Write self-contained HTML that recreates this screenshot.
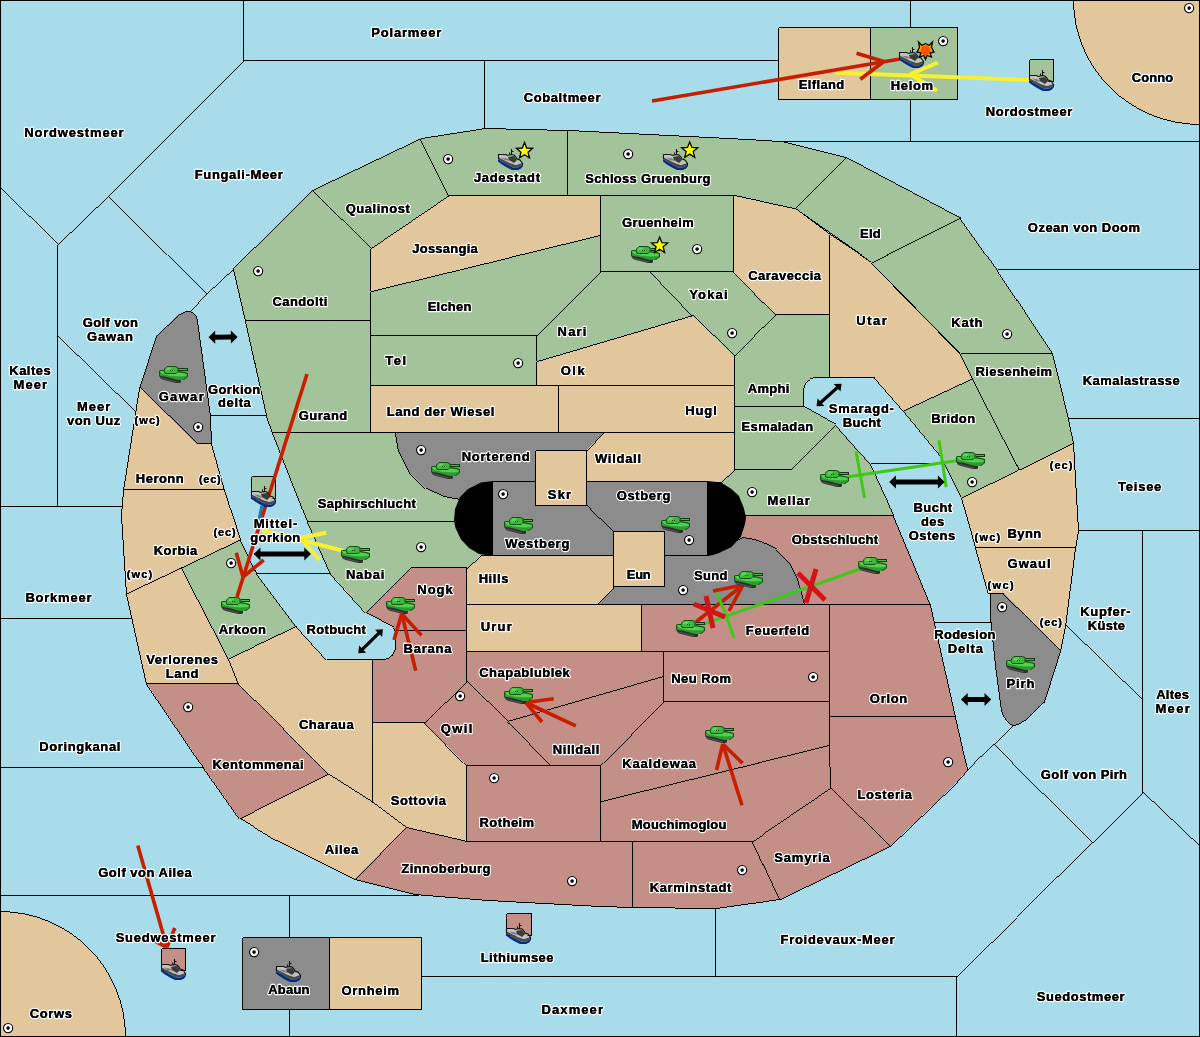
<!DOCTYPE html>
<html><head><meta charset="utf-8"><style>
html,body{margin:0;padding:0;background:#a8dcea;}
svg{display:block;will-change:transform}
</style></head><body>
<svg width="1200" height="1037" viewBox="0 0 1200 1037">
<defs>
<g id="tank">
<polygon fill="#2e2e2e" points="0,9 2,9 8,10 12,11 15,12 19,13 22,14 22,16 21,17 17,17 13,16 9,15 5,14 2,13 1,11 0,10"/>
<polyline fill="none" stroke="#5a5a5a" stroke-width="0.9" points="2,12 6,13 10,14 14,15 18,16"/>
<polygon fill="#2c9c2c" points="1,4 5,4 19,5 25,6 29,7 29,11 27,12 25,14 19,14 15,13 12,12 8,11 2,10 0,9 0,5"/>
<polygon fill="#50cf50" points="1,5 6,5 19,6.5 26,7.5 28,8.5 27,10 20,10.5 12,10 3,8"/>
<polyline fill="none" stroke="#155015" stroke-width="1" points="0.5,9 0.5,5 1.5,4.5 5,4.5 19,5.5 25,6.5 28.5,7.5 28.5,11 26.5,12.5 24.5,13.5"/>
<polygon fill="#3cb83c" stroke="#155015" stroke-width="1" points="8,0.5 16,0.5 19,1.5 19,5.5 17,7.5 6,7.5 5,4.5 6,2.5"/>
<polygon fill="#58d858" points="8,1.5 13,1.5 11,4.5 7,4.5"/>
<rect x="20" y="2.5" width="8.5" height="2" fill="#40c040" stroke="#0f3a0f" stroke-width="1"/>
<rect x="11" y="4" width="1" height="1" fill="#103010"/><rect x="13" y="4" width="1" height="1" fill="#103010"/>
</g><g id="fleet">
<polygon fill="#002a8c" points="0,10 0,12.5 4,15.5 9,18.5 14,21 20,21 23,19.5 25,17 25,15.5 20,18.5 15,18.5 9,15.5 3,12"/>
<polygon fill="#4a4a4a" points="0,8 6,11 12,14 18,16 24,14 25,15.5 20,18.5 15,18.5 9,15.5 3,12 0,10"/>
<polygon fill="#c2c2c2" points="1,6 8,6 10,7 13,9 18,11 23,13 24,14 18,16 12,14 6,11 1,8.5"/>
<polygon fill="#7a7a7a" points="3,8.5 9,9.5 13,12 7,11"/>
<polygon fill="#3a3a3a" points="10,8 16,7 19,11 16,14 11,11"/>
<polyline fill="none" stroke="#111" stroke-width="1.1" points="0.5,10 0.5,5.5 7.5,5.5 9.5,6.5 11,6 13,5.5 16,6 18,8 19,10 22,11 23.5,13 24.5,14.5 24.5,16"/>
<line x1="13.5" y1="0" x2="13.5" y2="6" stroke="#111" stroke-width="1.1"/>
<line x1="13.5" y1="2.5" x2="15.5" y2="2.5" stroke="#111" stroke-width="1"/>
<line x1="11.5" y1="3.5" x2="11.5" y2="5.5" stroke="#111" stroke-width="1"/>
</g><g id="sc"><circle cx="0.1" cy="0.1" r="4.6" fill="#fff" stroke="#000" stroke-width="1.1"/><circle cx="0.1" cy="0.1" r="1.8" fill="#000"/></g>
</defs>
<rect width="1200" height="1037" fill="#a8dcea"/>
<g stroke="#000" stroke-width="0.99" shape-rendering="crispEdges">
<polygon fill="#a3c49a" points="233.5,268.5 311.5,190.5 370.5,248.5 370.5,320.5 245.5,320.5"/><polygon fill="#a3c49a" points="311.5,190.5 420.5,138.5 448.5,195.5 370.5,248.5"/><polygon fill="#a3c49a" points="420.5,138.5 484.5,128.5 567.5,130.5 567.5,195.5 448.5,195.5"/><polygon fill="#a3c49a" points="567.5,130.5 728.5,138.5 780.5,141.5 845.5,157.5 794.5,208.5 733.5,195.5 567.5,195.5"/><polygon fill="#a3c49a" points="845.5,157.5 960.5,218.5 871.5,262.5 794.5,208.5"/><polygon fill="#e2c69c" points="733.5,195.5 794.5,208.5 829.5,234.5 829.5,314.5 775.5,314.5 733.5,271.5"/><polygon fill="#e2c69c" points="829.5,234.5 871.5,262.5 960.5,352.5 972.5,378.5 903.5,410.5 874.5,377.5 829.5,377.5"/><polygon fill="#a3c49a" points="960.5,218.5 997.5,270.5 1052.5,353.5 960.5,353.5 871.5,262.5"/><polygon fill="#a3c49a" points="960.5,353.5 1052.5,353.5 1059.5,380.5 1068.5,418.5 1073.5,442.5 1019.5,469.5 972.5,378.5"/><polygon fill="#a3c49a" points="903.5,410.5 972.5,378.5 1019.5,469.5 961.5,497.5 940.5,455.5"/><polygon fill="#e2c69c" points="961.5,497.5 1019.5,469.5 1073.5,442.5 1078.5,530.5 1075.5,547.5 975.5,547.5"/><polygon fill="#e2c69c" points="975.5,547.5 1075.5,547.5 1065.5,625.5 1060.5,650.5 1003.5,593.5 988.5,593.5"/><path fill="#8c8c8c" d="M990.5,593.5 L1003.5,593.5 L1060.5,650.5 L1044,702.5 L1025,720.5 Q1018.5,725.5 1012.5,725.5 Q1005,722 1001.5,711 L995.5,666 L991,622 Z"/><polygon fill="#a3c49a" points="600.5,195.5 733.5,195.5 733.5,271.5 600.5,271.5"/><polygon fill="#e2c69c" points="370.5,248.5 448.5,195.5 600.5,195.5 600.5,235.5 370.5,291.5"/><polygon fill="#a3c49a" points="370.5,291.5 600.5,235.5 600.5,271.5 536.5,335.5 370.5,335.5"/><polygon fill="#a3c49a" points="370.5,335.5 536.5,335.5 536.5,385.5 370.5,385.5"/><polygon fill="#a3c49a" points="536.5,335.5 600.5,271.5 650.5,271.5 692.5,315.5 536.5,361.5"/><polygon fill="#a3c49a" points="650.5,271.5 733.5,271.5 775.5,314.5 734.5,356.5 692.5,315.5"/><polygon fill="#e2c69c" points="536.5,361.5 692.5,315.5 734.5,356.5 734.5,385.5 536.5,385.5"/><path fill="#a3c49a" d="M734.5,356.5 L775.5,314.5 L829.5,314.5 L829.5,377.5 L815.5,377.5 Q803.5,378.5 803.5,391.5 L803.5,406.5 L734.5,406.5 Z"/><polygon fill="#a3c49a" points="734.5,406.5 803.5,406.5 835.5,424.5 790.5,469.5 734.5,469.5"/><polygon fill="#a3c49a" points="720.5,482.5 734.5,469.5 790.5,469.5 835.5,424.5 858.5,450.5 870.5,463.5 887.5,500.5 893.5,515.5 707.5,515.5 707.5,482.5"/><polygon fill="#e2c69c" points="603.5,432.5 734.5,432.5 734.5,469.5 720.5,482.5 586.5,482.5 586.5,450.5"/><polygon fill="#e2c69c" points="558.5,385.5 734.5,385.5 734.5,432.5 558.5,432.5"/><polygon fill="#e2c69c" points="370.5,385.5 558.5,385.5 558.5,432.5 370.5,432.5"/><polygon fill="#a3c49a" points="245.5,320.5 370.5,320.5 370.5,432.5 272.5,432.5 266.5,415.5"/><polygon fill="#a3c49a" points="272.5,432.5 395.5,432.5 398.5,450.5 410.5,473.5 425.5,488.5 443.5,496.5 459.5,499.5 470.5,499.5 470.5,521.5 307.5,521.5"/><polygon fill="#8c8c8c" points="395.5,432.5 603.5,432.5 586.5,450.5 535.5,450.5 535.5,481.5 492.5,481.5 476.5,486.5 459.5,499.5 443.5,496.5 425.5,488.5 410.5,473.5 398.5,450.5"/><polygon fill="#8c8c8c" points="492.5,481.5 707.5,481.5 707.5,555.5 492.5,555.5"/><polygon fill="#e2c69c" points="535.5,450.5 586.5,450.5 586.5,505.5 535.5,505.5"/><polygon fill="#e2c69c" points="613.5,531.5 664.5,531.5 664.5,586.5 613.5,586.5"/><polygon fill="#c48f86" points="707.5,515.5 893.5,515.5 920.5,580.5 930.5,604.5 804.5,604.5 802.5,595.5 797.5,578.5 790.5,563.5 776.5,549.5 766.5,544.0 753.5,539.5 741.5,537.5 707.5,560.5"/><polygon fill="#8c8c8c" points="613.5,586.5 664.5,586.5 664.5,555.5 707.5,555.5 741.5,537.5 753.5,539.5 766.5,544.0 776.5,549.5 790.5,563.5 797.5,578.5 802.5,595.5 804.5,604.5 596.5,604.5 613.5,587.5"/><polygon fill="#e2c69c" points="466.5,568.5 480.5,555.5 613.5,555.5 613.5,587.5 596.5,604.5 466.5,604.5"/><polygon fill="#e2c69c" points="466.5,604.5 641.5,604.5 641.5,651.5 466.5,651.5"/><polygon fill="#a3c49a" points="307.5,521.5 492.5,521.5 492.5,554.5 480.5,555.5 466.5,568.5 410.5,567.5 365.5,612.5 330.5,573.5"/><polygon fill="#c48f86" points="410.5,567.5 466.5,567.5 466.5,630.5 395.5,630.5 393.5,627.5 365.5,612.5"/><path fill="#c48f86" d="M395.5,630.5 L466.5,630.5 L466.5,681.5 L424.5,722.5 L372.5,722.5 L372.5,659.5 L383.5,659.5 Q395.5,657.5 395.5,645.5 Z"/><polygon fill="#c48f86" points="466.5,651.5 663.5,651.5 663.5,676.5 507.5,721.5 466.5,681.5"/><polygon fill="#c48f86" points="466.5,681.5 507.5,721.5 550.5,765.5 466.5,765.5 424.5,722.5"/><polygon fill="#c48f86" points="507.5,721.5 663.5,676.5 663.5,701.5 600.5,765.5 550.5,765.5"/><polygon fill="#c48f86" points="663.5,651.5 829.5,651.5 829.5,701.5 663.5,701.5"/><polygon fill="#c48f86" points="641.5,604.5 829.5,604.5 829.5,651.5 641.5,651.5"/><polygon fill="#c48f86" points="829.5,604.5 930.5,604.5 934.5,622.5 955.5,716.5 829.5,716.5"/><polygon fill="#c48f86" points="829.5,716.5 955.5,716.5 967.5,769.5 953.5,785.5 889.5,846.5 830.5,788.5 829.5,745.5"/><polygon fill="#c48f86" points="663.5,701.5 829.5,701.5 829.5,745.5 600.5,801.5 600.5,765.5"/><polygon fill="#c48f86" points="600.5,801.5 829.5,745.5 830.5,788.5 752.5,841.5 600.5,841.5"/><polygon fill="#c48f86" points="752.5,841.5 830.5,788.5 889.5,846.5 779.5,899.5"/><polygon fill="#c48f86" points="632.5,841.5 752.5,841.5 779.5,899.5 715.5,908.5 632.5,907.5"/><polygon fill="#c48f86" points="405.5,827.5 466.5,841.5 632.5,841.5 632.5,907.5 600.5,906.5 487.5,900.5 450.5,897.5 413.5,894.5 354.5,879.5"/><polygon fill="#c48f86" points="466.5,765.5 600.5,765.5 600.5,841.5 466.5,841.5"/><polygon fill="#e2c69c" points="372.5,722.5 424.5,722.5 466.5,765.5 466.5,841.5 405.5,827.5 372.5,802.5"/><polygon fill="#e2c69c" points="239.5,818.5 328.5,774.5 372.5,802.5 405.5,827.5 354.5,879.5 275.5,840.5"/><polygon fill="#e2c69c" points="296.5,626.5 326.5,659.5 372.5,659.5 372.5,802.5 328.5,774.5 238.5,683.5 228.5,658.5"/><polygon fill="#c48f86" points="146.5,683.5 238.5,683.5 328.5,774.5 239.5,818.5 203.5,767.5"/><polygon fill="#e2c69c" points="126.5,593.5 181.5,567.5 228.5,658.5 238.5,683.5 146.5,683.5"/><polygon fill="#a3c49a" points="181.5,567.5 240.5,539.5 256.5,573.5 296.5,626.5 228.5,658.5"/><polygon fill="#e2c69c" points="123.5,489.5 224.5,489.5 240.5,539.5 181.5,567.5 126.5,593.5 121.5,515.5"/><polygon fill="#e2c69c" points="139.5,387.5 196.5,443.5 211.5,443.5 224.5,489.5 123.5,489.5"/><path fill="#8c8c8c" d="M139.5,387.5 L156.5,335.5 L178.5,314.5 Q185,310.5 191,312 Q196.5,314.5 197.5,320.5 L210.5,415.5 L211.5,443.5 L196.5,443.5 Z"/><polygon fill="#e2c69c" points="778.5,27.5 870.5,27.5 870.5,99.5 778.5,99.5"/><polygon fill="#a3c49a" points="870.5,27.5 957.5,27.5 957.5,99.5 870.5,99.5"/><polygon fill="#a3c49a" points="1029.5,59.5 1053.5,59.5 1053.5,81.5 1029.5,81.5"/><polygon fill="#a3c49a" points="251.5,476.5 275.5,476.5 275.5,498.5 251.5,498.5"/><polygon fill="#c48f86" points="161.5,948.5 185.5,948.5 185.5,970.5 161.5,970.5"/><polygon fill="#c48f86" points="506.5,913.5 531.5,913.5 531.5,935.5 506.5,935.5"/><polygon fill="#8c8c8c" points="242.5,937.5 329.5,937.5 329.5,1009.5 242.5,1009.5"/><polygon fill="#e2c69c" points="329.5,937.5 421.5,937.5 421.5,1009.5 329.5,1009.5"/><path fill="#e2c69c" d="M1073.5,0 A126.5,124.5 0 0 0 1200,124.5 L1200,0 Z"/><path fill="#e2c69c" d="M0,911.5 A125.5,125.5 0 0 1 125.5,1037 L0,1037 Z"/>
</g>
<g fill="none" stroke="#000" stroke-width="0.99" shape-rendering="crispEdges"><polyline points="243.5,0.5 243.5,60.5 778.5,60.5"/><polyline points="243.5,60.5 108.5,195.5 57.5,244.5 57.5,506.5"/><polyline points="0.5,188.5 57.5,244.5"/><polyline points="108.5,195.5 206.5,293.5 189.5,311.5"/><polyline points="206.5,293.5 233.5,268.5"/><polyline points="57.5,336.5 135.5,412.5"/><polyline points="0.5,506.5 122.5,506.5"/><polyline points="0.5,618.5 131.5,618.5"/><polyline points="0.5,767.5 203.5,767.5"/><polyline points="0.5,895.5 418.5,895.5"/><polyline points="289.5,895.5 289.5,937.5"/><polyline points="289.5,1009.5 289.5,1036.5"/><polyline points="421.5,976.5 956.5,976.5"/><polyline points="715.5,908.5 715.5,976.5"/><polyline points="956.5,976.5 956.5,1036.5"/><polyline points="956.5,976.5 1092.5,842.5 993.5,744.5"/><polyline points="1012.5,725.5 993.5,744.5 967.5,769.5"/><polyline points="1092.5,842.5 1142.5,792.5 1200.5,847.5"/><polyline points="1142.5,530.5 1142.5,792.5"/><polyline points="1065.5,625.5 1142.5,700.5"/><polyline points="1078.5,530.5 1200.5,530.5"/><polyline points="1068.5,418.5 1200.5,418.5"/><polyline points="997.5,269.5 1200.5,269.5"/><polyline points="780.5,141.5 1200.5,141.5"/><polyline points="910.5,99.5 910.5,141.5"/><polyline points="910.5,0.5 910.5,27.5"/><polyline points="484.5,60.5 484.5,128.5"/><polyline points="210.5,415.5 266.5,415.5"/><polyline points="256.5,573.5 330.5,573.5"/><polyline points="870.5,463.5 940.5,463.5"/><polyline points="934.5,622.5 990.5,622.5"/><polyline points="586.5,505.5 613.5,531.5"/></g>
<polygon fill="#000" points="493,481 481,482.5 468,489 460,497 455,509 454,521 455.5,528 461,539.5 469,548 479,554 493,556"/>
<polygon fill="#000" points="707,481 712,481.5 721,482.5 731.5,489 739,496 744,508.5 746,518 745,524 741,536.5 731.5,547 719,553 712,555.3 707,556"/>
<rect x="0.5" y="0.5" width="1199" height="1036" fill="none" stroke="#000" stroke-width="1" shape-rendering="crispEdges"/>
<use href="#sc" x="448" y="159"/><use href="#sc" x="628" y="154"/><use href="#sc" x="697" y="249"/><use href="#sc" x="943" y="41"/><use href="#sc" x="1189" y="8"/><use href="#sc" x="258" y="271"/><use href="#sc" x="198" y="427"/><use href="#sc" x="518" y="363"/><use href="#sc" x="421" y="450"/><use href="#sc" x="503" y="494"/><use href="#sc" x="732" y="333"/><use href="#sc" x="752" y="492"/><use href="#sc" x="1007" y="334"/><use href="#sc" x="972" y="482"/><use href="#sc" x="1002" y="607"/><use href="#sc" x="948" y="762"/><use href="#sc" x="742" y="870"/><use href="#sc" x="689" y="540"/><use href="#sc" x="683" y="590"/><use href="#sc" x="813" y="677"/><use href="#sc" x="460" y="696"/><use href="#sc" x="421" y="547"/><use href="#sc" x="231" y="563"/><use href="#sc" x="188" y="707"/><use href="#sc" x="494" y="778"/><use href="#sc" x="572" y="881"/><use href="#sc" x="254" y="952"/><use href="#sc" x="8" y="1028"/>
<g stroke="#f8f030" stroke-width="4" fill="none" stroke-linecap="butt"><line x1="1030" y1="80" x2="835" y2="72.7"/><line x1="910" y1="74.4" x2="938" y2="62.5"/><line x1="910" y1="74.4" x2="937" y2="90.7"/></g><g stroke="#c81e00" stroke-width="3.6" fill="none" stroke-linecap="butt"><line x1="652" y1="101" x2="900" y2="59"/><line x1="884" y1="61.5" x2="856.5" y2="53.3"/><line x1="884" y1="61.5" x2="860.3" y2="79.3"/></g><g stroke="#c81e00" stroke-width="3.6" fill="none" stroke-linecap="butt"><line x1="307" y1="374" x2="237" y2="597"/><line x1="243" y1="577" x2="236.3" y2="552.7"/><line x1="243" y1="577" x2="263.7" y2="560"/></g><g stroke="#f8f030" stroke-width="4" fill="none" stroke-linecap="butt"><line x1="343" y1="550.7" x2="261.7" y2="530"/><line x1="300.3" y1="538" x2="326.3" y2="532.7"/><line x1="300.3" y1="538" x2="319.7" y2="560"/></g><line x1="262" y1="505.5" x2="259" y2="519.4" stroke="#1e7ab4" stroke-width="3"/><g stroke="#c81e00" stroke-width="3.6" fill="none" stroke-linecap="butt"><line x1="415.7" y1="670.6" x2="401.7" y2="613.8"/><line x1="401.7" y1="613.8" x2="394" y2="640"/><line x1="401.7" y1="613.8" x2="421.5" y2="635.4"/></g><g stroke="#c81e00" stroke-width="3.6" fill="none" stroke-linecap="butt"><line x1="696" y1="622" x2="743" y2="585"/><line x1="743" y1="585" x2="713" y2="591"/><line x1="743" y1="585" x2="729" y2="611"/></g><g stroke="#40c818" stroke-width="3" fill="none" stroke-linecap="butt"><line x1="860" y1="569" x2="704" y2="624"/><line x1="726" y1="615" x2="717" y2="593"/><line x1="726" y1="615" x2="734" y2="638"/></g><line x1="694" y1="604" x2="725" y2="617" stroke="#d01418" stroke-width="5"/><line x1="706" y1="596" x2="713" y2="628" stroke="#d01418" stroke-width="5"/><line x1="798" y1="573" x2="825" y2="600" stroke="#d01418" stroke-width="5"/><line x1="816" y1="569" x2="806" y2="603" stroke="#d01418" stroke-width="5"/><g stroke="#40c818" stroke-width="3" fill="none" stroke-linecap="butt"><line x1="848" y1="476.7" x2="971.5" y2="458.5"/><line x1="856" y1="451.4" x2="864.6" y2="498"/></g><line x1="939" y1="440.3" x2="946.2" y2="487" stroke="#40c818" stroke-width="3"/><g stroke="#c81e00" stroke-width="3.6" fill="none" stroke-linecap="butt"><line x1="575.8" y1="725.8" x2="525.8" y2="702.5"/><line x1="525.8" y1="702.5" x2="553.75" y2="698.75"/><line x1="525.8" y1="702.5" x2="542" y2="722"/></g><g stroke="#c81e00" stroke-width="3.6" fill="none" stroke-linecap="butt"><line x1="742" y1="805.2" x2="722.8" y2="744"/><line x1="722.8" y1="744" x2="716.5" y2="770"/><line x1="722.8" y1="744" x2="742.6" y2="763.2"/></g><g stroke="#c81e00" stroke-width="3.6" fill="none" stroke-linecap="butt"><line x1="137.8" y1="845.4" x2="167" y2="947.4"/><line x1="167" y1="947.4" x2="154.7" y2="941.2"/><line x1="167" y1="947.4" x2="174.8" y2="928"/></g>
<g fill="#000"><polygon transform="translate(253.7,554) rotate(0.00)" points="0.00,0.00 6.70,-6.50 6.70,-2.50 50.60,-2.50 50.60,-6.50 57.30,0.00 50.60,6.50 50.60,2.50 6.70,2.50 6.70,6.50"/><polygon transform="translate(889.2,482) rotate(0.00)" points="0.00,0.00 6.70,-6.50 6.70,-2.50 48.70,-2.50 48.70,-6.50 55.40,0.00 48.70,6.50 48.70,2.50 6.70,2.50 6.70,6.50"/><polygon transform="translate(961,699.4) rotate(0.00)" points="0.00,0.00 6.70,-6.50 6.70,-2.50 23.50,-2.50 23.50,-6.50 30.20,0.00 23.50,6.50 23.50,2.50 6.70,2.50 6.70,6.50"/><polygon transform="translate(208.5,337.2) rotate(-0.39)" points="0.00,0.00 6.70,-6.50 6.70,-2.50 22.40,-2.50 22.40,-6.50 29.10,0.00 22.40,6.50 22.40,2.50 6.70,2.50 6.70,6.50"/><polygon transform="translate(816.5,406.3) rotate(-41.87)" points="0.00,0.00 6.00,-5.00 6.00,-1.60 27.71,-1.60 27.71,-5.00 33.71,0.00 27.71,5.00 27.71,1.60 6.00,1.60 6.00,5.00"/><polygon transform="translate(358.3,653.3) rotate(-44.41)" points="0.00,0.00 6.00,-5.00 6.00,-1.60 28.44,-1.60 28.44,-5.00 34.44,0.00 28.44,5.00 28.44,1.60 6.00,1.60 6.00,5.00"/></g>
<use href="#tank" x="159" y="366"/><use href="#tank" x="431" y="462"/><use href="#tank" x="504" y="517"/><use href="#tank" x="661" y="516"/><use href="#tank" x="631" y="246"/><use href="#tank" x="341" y="546"/><use href="#tank" x="221" y="597"/><use href="#tank" x="386" y="597"/><use href="#tank" x="504" y="687"/><use href="#tank" x="676" y="620"/><use href="#tank" x="734" y="571"/><use href="#tank" x="858" y="557"/><use href="#tank" x="705" y="726"/><use href="#tank" x="820" y="470"/><use href="#tank" x="956" y="452"/><use href="#tank" x="1006" y="656"/><use href="#fleet" x="498" y="149"/><use href="#fleet" x="663" y="149"/><use href="#fleet" x="899" y="47"/><use href="#fleet" x="1029" y="70"/><use href="#fleet" x="251" y="486"/><use href="#fleet" x="161" y="959"/><use href="#fleet" x="506" y="923"/><use href="#fleet" x="276" y="961"/><polygon points="524.50,142.50 526.67,148.01 532.58,148.37 528.02,152.14 529.50,157.88 524.50,154.70 519.50,157.88 520.98,152.14 516.42,148.37 522.33,148.01" fill="#ffff00" stroke="#000" stroke-width="1.3"/><polygon points="689.70,141.90 691.87,147.41 697.78,147.77 693.22,151.54 694.70,157.28 689.70,154.10 684.70,157.28 686.18,151.54 681.62,147.77 687.53,147.41" fill="#ffff00" stroke="#000" stroke-width="1.3"/><polygon points="659.60,237.10 661.77,242.61 667.68,242.97 663.12,246.74 664.60,252.48 659.60,249.30 654.60,252.48 656.08,246.74 651.52,242.97 657.43,242.61" fill="#ffff00" stroke="#000" stroke-width="1.3"/><polygon points="918.5,42 922,45.5 925.5,43.5 929,45.5 932.5,42 931.5,47.5 934,52 930,53 931.5,57 927,55.5 925.5,59.5 924,55.5 919.5,57 921,53 917,52 919.5,47.5" fill="#ffa000" stroke="#000" stroke-width="1.3" stroke-linejoin="miter"/><polygon points="922,47 925.5,45.5 929,47 930.5,51 928,54.5 925.5,56 923,54.5 920.5,51" fill="#ff5000"/>
<g font-family="Liberation Sans" font-weight="bold" font-size="13" text-anchor="middle" fill="#000" stroke="#fff" stroke-width="2.5" stroke-linejoin="round" paint-order="stroke"><text x="73.90" y="137" textLength="99.30" lengthAdjust="spacing">Nordwestmeer</text><text x="238.75" y="179" textLength="88.00" lengthAdjust="spacing">Fungali-Meer</text><text x="406.25" y="37" textLength="70.00" lengthAdjust="spacing">Polarmeer</text><text x="377.75" y="213" textLength="64.00" lengthAdjust="spacing">Qualinost</text><text x="445.00" y="252.6" textLength="65.50" lengthAdjust="spacing">Jossangia</text><text x="507.00" y="181.5" textLength="66.10" lengthAdjust="spacing">Jadestadt</text><text x="562.10" y="101.5" textLength="76.70" lengthAdjust="spacing">Cobaltmeer</text><text x="647.85" y="183" textLength="125.20" lengthAdjust="spacing">Schloss Gruenburg</text><text x="657.85" y="226.8" textLength="71.80" lengthAdjust="spacing">Gruenheim</text><text x="821.50" y="89" textLength="45.30" lengthAdjust="spacing">Elfland</text><text x="911.95" y="90.2" textLength="42.40" lengthAdjust="spacing">Helom</text><text x="1029.00" y="115.8" textLength="86.50" lengthAdjust="spacing">Nordostmeer</text><text x="870.35" y="237.6" textLength="20.80" lengthAdjust="spacing">Eld</text><text x="1152.50" y="82" textLength="41.30" lengthAdjust="spacing">Conno</text><text x="1083.95" y="231.8" textLength="112.20" lengthAdjust="spacing">Ozean von Doom</text><text x="30.00" y="374.8" textLength="41.50" lengthAdjust="spacing">Kaltes</text><text x="30.35" y="388.6" textLength="33.60" lengthAdjust="spacing">Meer</text><text x="110.40" y="327" textLength="55.30" lengthAdjust="spacing">Golf von</text><text x="110.00" y="340.7" textLength="46.10" lengthAdjust="spacing">Gawan</text><text x="93.60" y="411" textLength="33.30" lengthAdjust="spacing">Meer</text><text x="93.60" y="425" textLength="53.30" lengthAdjust="spacing">von Uuz</text><text x="181.20" y="401" textLength="45.10" lengthAdjust="spacing">Gawar</text><text x="234.10" y="393.6" textLength="52.10" lengthAdjust="spacing">Gorkion</text><text x="234.45" y="407.4" textLength="32.80" lengthAdjust="spacing">delta</text><text x="159.80" y="482.6" textLength="47.90" lengthAdjust="spacing">Heronn</text><text x="299.90" y="306" textLength="54.70" lengthAdjust="spacing">Candolti</text><text x="449.55" y="311" textLength="43.60" lengthAdjust="spacing">Elchen</text><text x="395.70" y="364.8" textLength="20.90" lengthAdjust="spacing">Tel</text><text x="440.50" y="416" textLength="107.70" lengthAdjust="spacing">Land der Wiesel</text><text x="322.95" y="420" textLength="48.60" lengthAdjust="spacing">Gurand</text><text x="495.75" y="461" textLength="68.00" lengthAdjust="spacing">Norterend</text><text x="784.65" y="279.7" textLength="72.80" lengthAdjust="spacing">Caraveccia</text><text x="708.40" y="299" textLength="38.30" lengthAdjust="spacing">Yokai</text><text x="572.00" y="336" textLength="28.90" lengthAdjust="spacing">Nari</text><text x="572.70" y="374.8" textLength="24.10" lengthAdjust="spacing">Olk</text><text x="768.65" y="393.4" textLength="41.60" lengthAdjust="spacing">Amphi</text><text x="701.00" y="415.4" textLength="31.50" lengthAdjust="spacing">Hugl</text><text x="777.40" y="431" textLength="71.70" lengthAdjust="spacing">Esmaladan</text><text x="618.00" y="462.6" textLength="46.10" lengthAdjust="spacing">Wildall</text><text x="559.50" y="499" textLength="23.30" lengthAdjust="spacing">Skr</text><text x="643.55" y="500" textLength="53.60" lengthAdjust="spacing">Ostberg</text><text x="537.30" y="547.8" textLength="64.10" lengthAdjust="spacing">Westberg</text><text x="638.75" y="578.6" textLength="24.00" lengthAdjust="spacing">Eun</text><text x="493.55" y="583.4" textLength="29.80" lengthAdjust="spacing">Hills</text><text x="710.75" y="579.6" textLength="33.40" lengthAdjust="spacing">Sund</text><text x="435.00" y="594" textLength="35.50" lengthAdjust="spacing">Nogk</text><text x="496.20" y="631" textLength="31.10" lengthAdjust="spacing">Urur</text><text x="427.50" y="653" textLength="47.90" lengthAdjust="spacing">Barana</text><text x="524.50" y="676.8" textLength="90.50" lengthAdjust="spacing">Chapablublek</text><text x="701.10" y="683" textLength="59.90" lengthAdjust="spacing">Neu Rom</text><text x="834.90" y="544.3" textLength="86.50" lengthAdjust="spacing">Obstschlucht</text><text x="777.55" y="634.5" textLength="63.40" lengthAdjust="spacing">Feuerfeld</text><text x="888.55" y="702.5" textLength="37.40" lengthAdjust="spacing">Orlon</text><text x="659.10" y="767.6" textLength="73.70" lengthAdjust="spacing">Kaaldewaa</text><text x="366.80" y="508.4" textLength="97.90" lengthAdjust="spacing">Saphirschlucht</text><text x="275.45" y="527.7" textLength="43.60" lengthAdjust="spacing">Mittel-</text><text x="275.25" y="541.5" textLength="50.00" lengthAdjust="spacing">gorkion</text><text x="365.10" y="578.6" textLength="38.30" lengthAdjust="spacing">Nabai</text><text x="242.40" y="633.7" textLength="47.10" lengthAdjust="spacing">Arkoon</text><text x="336.15" y="633.7" textLength="59.20" lengthAdjust="spacing">Rotbucht</text><text x="175.45" y="554.7" textLength="43.60" lengthAdjust="spacing">Korbia</text><text x="182.10" y="663.7" textLength="71.90" lengthAdjust="spacing">Verlorenes</text><text x="182.05" y="677.5" textLength="32.80" lengthAdjust="spacing">Land</text><text x="326.35" y="728.9" textLength="54.80" lengthAdjust="spacing">Charaua</text><text x="58.45" y="601.9" textLength="66.00" lengthAdjust="spacing">Borkmeer</text><text x="79.80" y="750.5" textLength="81.10" lengthAdjust="spacing">Doringkanal</text><text x="144.95" y="877.4" textLength="93.40" lengthAdjust="spacing">Golf von Ailea</text><text x="50.90" y="1018" textLength="42.10" lengthAdjust="spacing">Corws</text><text x="258.05" y="769" textLength="91.20" lengthAdjust="spacing">Kentommenai</text><text x="418.30" y="804.8" textLength="55.30" lengthAdjust="spacing">Sottovia</text><text x="341.45" y="853.7" textLength="33.60" lengthAdjust="spacing">Ailea</text><text x="445.90" y="873" textLength="89.30" lengthAdjust="spacing">Zinnoberburg</text><text x="456.50" y="733.2" textLength="31.50" lengthAdjust="spacing">Qwil</text><text x="576.05" y="754" textLength="46.60" lengthAdjust="spacing">Nilldall</text><text x="506.85" y="826.7" textLength="54.60" lengthAdjust="spacing">Rotheim</text><text x="679.10" y="829.1" textLength="94.70" lengthAdjust="spacing">Mouchimoglou</text><text x="690.60" y="891.8" textLength="81.70" lengthAdjust="spacing">Karminstadt</text><text x="517.10" y="962" textLength="72.90" lengthAdjust="spacing">Lithiumsee</text><text x="572.25" y="1013.8" textLength="61.40" lengthAdjust="spacing">Daxmeer</text><text x="165.60" y="941.8" textLength="99.90" lengthAdjust="spacing">Suedwestmeer</text><text x="288.85" y="993.9" textLength="41.40" lengthAdjust="spacing">Abaun</text><text x="370.35" y="994.8" textLength="57.60" lengthAdjust="spacing">Ornheim</text><text x="837.50" y="943.7" textLength="114.00" lengthAdjust="spacing">Froidevaux-Meer</text><text x="1080.62" y="1000.75" textLength="87.75" lengthAdjust="spacing">Suedostmeer</text><text x="884.77" y="798.7" textLength="54.45" lengthAdjust="spacing">Losteria</text><text x="802.00" y="862.4" textLength="55.50" lengthAdjust="spacing">Samyria</text><text x="1083.95" y="778.6" textLength="86.20" lengthAdjust="spacing">Golf von Pirh</text><text x="1172.55" y="699" textLength="32.80" lengthAdjust="spacing">Altes</text><text x="1172.60" y="712.7" textLength="34.30" lengthAdjust="spacing">Meer</text><text x="1020.45" y="688.2" textLength="27.80" lengthAdjust="spacing">Pirh</text><text x="964.85" y="638.8" textLength="61.20" lengthAdjust="spacing">Rodesion</text><text x="965.30" y="652.6" textLength="35.30" lengthAdjust="spacing">Delta</text><text x="1106.40" y="630" textLength="37.30" lengthAdjust="spacing">Küste</text><text x="1105.40" y="615.6" textLength="50.30" lengthAdjust="spacing">Kupfer-</text><text x="1139.70" y="490.8" textLength="43.30" lengthAdjust="spacing">Teisee</text><text x="1024.35" y="537.9" textLength="33.60" lengthAdjust="spacing">Bynn</text><text x="1029.10" y="568" textLength="43.10" lengthAdjust="spacing">Gwaul</text><text x="932.85" y="511.6" textLength="38.60" lengthAdjust="spacing">Bucht</text><text x="932.60" y="525.9" textLength="23.10" lengthAdjust="spacing">des</text><text x="931.95" y="540.4" textLength="46.40" lengthAdjust="spacing">Ostens</text><text x="953.20" y="423" textLength="43.90" lengthAdjust="spacing">Bridon</text><text x="966.85" y="327" textLength="31.20" lengthAdjust="spacing">Kath</text><text x="871.55" y="324.8" textLength="30.40" lengthAdjust="spacing">Utar</text><text x="1013.80" y="376.2" textLength="76.70" lengthAdjust="spacing">Riesenheim</text><text x="861.40" y="413" textLength="65.10" lengthAdjust="spacing">Smaragd-</text><text x="861.80" y="426.8" textLength="38.30" lengthAdjust="spacing">Bucht</text><text x="1131.25" y="384.5" textLength="97.00" lengthAdjust="spacing">Kamalastrasse</text><text x="788.60" y="505.3" textLength="42.30" lengthAdjust="spacing">Mellar</text></g>
<g font-family="Liberation Sans" font-weight="bold" font-size="13" text-anchor="middle" fill="#000" stroke="#000" stroke-width="0.2"><text x="73.90" y="137" textLength="99.30" lengthAdjust="spacing">Nordwestmeer</text><text x="238.75" y="179" textLength="88.00" lengthAdjust="spacing">Fungali-Meer</text><text x="406.25" y="37" textLength="70.00" lengthAdjust="spacing">Polarmeer</text><text x="377.75" y="213" textLength="64.00" lengthAdjust="spacing">Qualinost</text><text x="445.00" y="252.6" textLength="65.50" lengthAdjust="spacing">Jossangia</text><text x="507.00" y="181.5" textLength="66.10" lengthAdjust="spacing">Jadestadt</text><text x="562.10" y="101.5" textLength="76.70" lengthAdjust="spacing">Cobaltmeer</text><text x="647.85" y="183" textLength="125.20" lengthAdjust="spacing">Schloss Gruenburg</text><text x="657.85" y="226.8" textLength="71.80" lengthAdjust="spacing">Gruenheim</text><text x="821.50" y="89" textLength="45.30" lengthAdjust="spacing">Elfland</text><text x="911.95" y="90.2" textLength="42.40" lengthAdjust="spacing">Helom</text><text x="1029.00" y="115.8" textLength="86.50" lengthAdjust="spacing">Nordostmeer</text><text x="870.35" y="237.6" textLength="20.80" lengthAdjust="spacing">Eld</text><text x="1152.50" y="82" textLength="41.30" lengthAdjust="spacing">Conno</text><text x="1083.95" y="231.8" textLength="112.20" lengthAdjust="spacing">Ozean von Doom</text><text x="30.00" y="374.8" textLength="41.50" lengthAdjust="spacing">Kaltes</text><text x="30.35" y="388.6" textLength="33.60" lengthAdjust="spacing">Meer</text><text x="110.40" y="327" textLength="55.30" lengthAdjust="spacing">Golf von</text><text x="110.00" y="340.7" textLength="46.10" lengthAdjust="spacing">Gawan</text><text x="93.60" y="411" textLength="33.30" lengthAdjust="spacing">Meer</text><text x="93.60" y="425" textLength="53.30" lengthAdjust="spacing">von Uuz</text><text x="181.20" y="401" textLength="45.10" lengthAdjust="spacing">Gawar</text><text x="234.10" y="393.6" textLength="52.10" lengthAdjust="spacing">Gorkion</text><text x="234.45" y="407.4" textLength="32.80" lengthAdjust="spacing">delta</text><text x="159.80" y="482.6" textLength="47.90" lengthAdjust="spacing">Heronn</text><text x="299.90" y="306" textLength="54.70" lengthAdjust="spacing">Candolti</text><text x="449.55" y="311" textLength="43.60" lengthAdjust="spacing">Elchen</text><text x="395.70" y="364.8" textLength="20.90" lengthAdjust="spacing">Tel</text><text x="440.50" y="416" textLength="107.70" lengthAdjust="spacing">Land der Wiesel</text><text x="322.95" y="420" textLength="48.60" lengthAdjust="spacing">Gurand</text><text x="495.75" y="461" textLength="68.00" lengthAdjust="spacing">Norterend</text><text x="784.65" y="279.7" textLength="72.80" lengthAdjust="spacing">Caraveccia</text><text x="708.40" y="299" textLength="38.30" lengthAdjust="spacing">Yokai</text><text x="572.00" y="336" textLength="28.90" lengthAdjust="spacing">Nari</text><text x="572.70" y="374.8" textLength="24.10" lengthAdjust="spacing">Olk</text><text x="768.65" y="393.4" textLength="41.60" lengthAdjust="spacing">Amphi</text><text x="701.00" y="415.4" textLength="31.50" lengthAdjust="spacing">Hugl</text><text x="777.40" y="431" textLength="71.70" lengthAdjust="spacing">Esmaladan</text><text x="618.00" y="462.6" textLength="46.10" lengthAdjust="spacing">Wildall</text><text x="559.50" y="499" textLength="23.30" lengthAdjust="spacing">Skr</text><text x="643.55" y="500" textLength="53.60" lengthAdjust="spacing">Ostberg</text><text x="537.30" y="547.8" textLength="64.10" lengthAdjust="spacing">Westberg</text><text x="638.75" y="578.6" textLength="24.00" lengthAdjust="spacing">Eun</text><text x="493.55" y="583.4" textLength="29.80" lengthAdjust="spacing">Hills</text><text x="710.75" y="579.6" textLength="33.40" lengthAdjust="spacing">Sund</text><text x="435.00" y="594" textLength="35.50" lengthAdjust="spacing">Nogk</text><text x="496.20" y="631" textLength="31.10" lengthAdjust="spacing">Urur</text><text x="427.50" y="653" textLength="47.90" lengthAdjust="spacing">Barana</text><text x="524.50" y="676.8" textLength="90.50" lengthAdjust="spacing">Chapablublek</text><text x="701.10" y="683" textLength="59.90" lengthAdjust="spacing">Neu Rom</text><text x="834.90" y="544.3" textLength="86.50" lengthAdjust="spacing">Obstschlucht</text><text x="777.55" y="634.5" textLength="63.40" lengthAdjust="spacing">Feuerfeld</text><text x="888.55" y="702.5" textLength="37.40" lengthAdjust="spacing">Orlon</text><text x="659.10" y="767.6" textLength="73.70" lengthAdjust="spacing">Kaaldewaa</text><text x="366.80" y="508.4" textLength="97.90" lengthAdjust="spacing">Saphirschlucht</text><text x="275.45" y="527.7" textLength="43.60" lengthAdjust="spacing">Mittel-</text><text x="275.25" y="541.5" textLength="50.00" lengthAdjust="spacing">gorkion</text><text x="365.10" y="578.6" textLength="38.30" lengthAdjust="spacing">Nabai</text><text x="242.40" y="633.7" textLength="47.10" lengthAdjust="spacing">Arkoon</text><text x="336.15" y="633.7" textLength="59.20" lengthAdjust="spacing">Rotbucht</text><text x="175.45" y="554.7" textLength="43.60" lengthAdjust="spacing">Korbia</text><text x="182.10" y="663.7" textLength="71.90" lengthAdjust="spacing">Verlorenes</text><text x="182.05" y="677.5" textLength="32.80" lengthAdjust="spacing">Land</text><text x="326.35" y="728.9" textLength="54.80" lengthAdjust="spacing">Charaua</text><text x="58.45" y="601.9" textLength="66.00" lengthAdjust="spacing">Borkmeer</text><text x="79.80" y="750.5" textLength="81.10" lengthAdjust="spacing">Doringkanal</text><text x="144.95" y="877.4" textLength="93.40" lengthAdjust="spacing">Golf von Ailea</text><text x="50.90" y="1018" textLength="42.10" lengthAdjust="spacing">Corws</text><text x="258.05" y="769" textLength="91.20" lengthAdjust="spacing">Kentommenai</text><text x="418.30" y="804.8" textLength="55.30" lengthAdjust="spacing">Sottovia</text><text x="341.45" y="853.7" textLength="33.60" lengthAdjust="spacing">Ailea</text><text x="445.90" y="873" textLength="89.30" lengthAdjust="spacing">Zinnoberburg</text><text x="456.50" y="733.2" textLength="31.50" lengthAdjust="spacing">Qwil</text><text x="576.05" y="754" textLength="46.60" lengthAdjust="spacing">Nilldall</text><text x="506.85" y="826.7" textLength="54.60" lengthAdjust="spacing">Rotheim</text><text x="679.10" y="829.1" textLength="94.70" lengthAdjust="spacing">Mouchimoglou</text><text x="690.60" y="891.8" textLength="81.70" lengthAdjust="spacing">Karminstadt</text><text x="517.10" y="962" textLength="72.90" lengthAdjust="spacing">Lithiumsee</text><text x="572.25" y="1013.8" textLength="61.40" lengthAdjust="spacing">Daxmeer</text><text x="165.60" y="941.8" textLength="99.90" lengthAdjust="spacing">Suedwestmeer</text><text x="288.85" y="993.9" textLength="41.40" lengthAdjust="spacing">Abaun</text><text x="370.35" y="994.8" textLength="57.60" lengthAdjust="spacing">Ornheim</text><text x="837.50" y="943.7" textLength="114.00" lengthAdjust="spacing">Froidevaux-Meer</text><text x="1080.62" y="1000.75" textLength="87.75" lengthAdjust="spacing">Suedostmeer</text><text x="884.77" y="798.7" textLength="54.45" lengthAdjust="spacing">Losteria</text><text x="802.00" y="862.4" textLength="55.50" lengthAdjust="spacing">Samyria</text><text x="1083.95" y="778.6" textLength="86.20" lengthAdjust="spacing">Golf von Pirh</text><text x="1172.55" y="699" textLength="32.80" lengthAdjust="spacing">Altes</text><text x="1172.60" y="712.7" textLength="34.30" lengthAdjust="spacing">Meer</text><text x="1020.45" y="688.2" textLength="27.80" lengthAdjust="spacing">Pirh</text><text x="964.85" y="638.8" textLength="61.20" lengthAdjust="spacing">Rodesion</text><text x="965.30" y="652.6" textLength="35.30" lengthAdjust="spacing">Delta</text><text x="1106.40" y="630" textLength="37.30" lengthAdjust="spacing">Küste</text><text x="1105.40" y="615.6" textLength="50.30" lengthAdjust="spacing">Kupfer-</text><text x="1139.70" y="490.8" textLength="43.30" lengthAdjust="spacing">Teisee</text><text x="1024.35" y="537.9" textLength="33.60" lengthAdjust="spacing">Bynn</text><text x="1029.10" y="568" textLength="43.10" lengthAdjust="spacing">Gwaul</text><text x="932.85" y="511.6" textLength="38.60" lengthAdjust="spacing">Bucht</text><text x="932.60" y="525.9" textLength="23.10" lengthAdjust="spacing">des</text><text x="931.95" y="540.4" textLength="46.40" lengthAdjust="spacing">Ostens</text><text x="953.20" y="423" textLength="43.90" lengthAdjust="spacing">Bridon</text><text x="966.85" y="327" textLength="31.20" lengthAdjust="spacing">Kath</text><text x="871.55" y="324.8" textLength="30.40" lengthAdjust="spacing">Utar</text><text x="1013.80" y="376.2" textLength="76.70" lengthAdjust="spacing">Riesenheim</text><text x="861.40" y="413" textLength="65.10" lengthAdjust="spacing">Smaragd-</text><text x="861.80" y="426.8" textLength="38.30" lengthAdjust="spacing">Bucht</text><text x="1131.25" y="384.5" textLength="97.00" lengthAdjust="spacing">Kamalastrasse</text><text x="788.60" y="505.3" textLength="42.30" lengthAdjust="spacing">Mellar</text></g>
<g font-family="Liberation Sans" font-weight="bold" font-size="11" text-anchor="middle" fill="#000" stroke="#fff" stroke-width="2.4" stroke-linejoin="round" paint-order="stroke"><text x="147.15" y="424.2" textLength="25.20" lengthAdjust="spacing">(wc)</text><text x="209.85" y="483" textLength="21.80" lengthAdjust="spacing">(ec)</text><text x="224.65" y="536" textLength="22.20" lengthAdjust="spacing">(ec)</text><text x="139.50" y="578.2" textLength="25.30" lengthAdjust="spacing">(wc)</text><text x="987.35" y="541.2" textLength="25.80" lengthAdjust="spacing">(wc)</text><text x="1000.50" y="589.3" textLength="26.10" lengthAdjust="spacing">(wc)</text><text x="1050.80" y="625.6" textLength="22.30" lengthAdjust="spacing">(ec)</text><text x="1061.05" y="469" textLength="22.80" lengthAdjust="spacing">(ec)</text></g>
<g font-family="Liberation Sans" font-weight="bold" font-size="11" text-anchor="middle" fill="#000" stroke="#000" stroke-width="0.2"><text x="147.15" y="424.2" textLength="25.20" lengthAdjust="spacing">(wc)</text><text x="209.85" y="483" textLength="21.80" lengthAdjust="spacing">(ec)</text><text x="224.65" y="536" textLength="22.20" lengthAdjust="spacing">(ec)</text><text x="139.50" y="578.2" textLength="25.30" lengthAdjust="spacing">(wc)</text><text x="987.35" y="541.2" textLength="25.80" lengthAdjust="spacing">(wc)</text><text x="1000.50" y="589.3" textLength="26.10" lengthAdjust="spacing">(wc)</text><text x="1050.80" y="625.6" textLength="22.30" lengthAdjust="spacing">(ec)</text><text x="1061.05" y="469" textLength="22.80" lengthAdjust="spacing">(ec)</text></g>
</svg></body></html>
